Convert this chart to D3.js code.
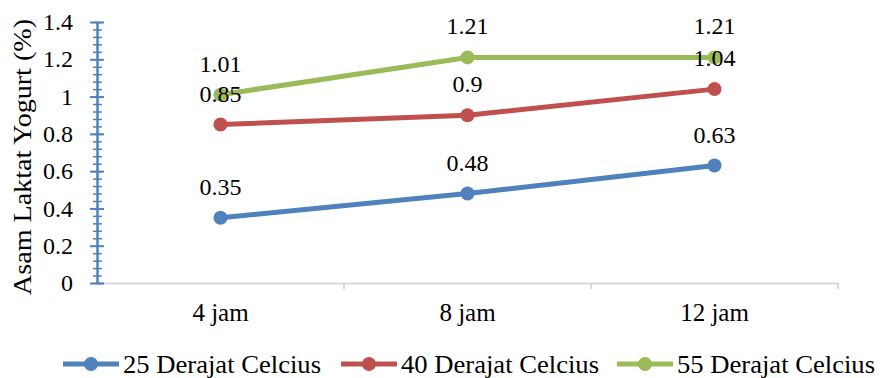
<!DOCTYPE html>
<html lang="id">
<head>
<meta charset="UTF-8">
<title>Asam Laktat Yogurt</title>
<script src="https://d3js.org/d3.v7.min.js"></script>
<style>
  body { margin: 0; background: #fff; }
</style>
</head>
<body>
<script>
var categories = ["4 jam", "8 jam", "12 jam"];
var seriesNames = ["25 Derajat Celcius", "40 Derajat Celcius", "55 Derajat Celcius"];
var seriesColors = ["#4F81BD", "#C0504D", "#9BBB59"];
var values25 = [0.35, 0.48, 0.63];
var values40 = [0.85, 0.9, 1.04];
var values55 = [1.01, 1.21, 1.21];
var yTicks = [0, 0.2, 0.4, 0.6, 0.8, 1, 1.2, 1.4];

var width = 881, height = 378;
var plotLeft = 97, plotRight = 838, plotTop = 22, plotBottom = 283;
var serif = "'Liberation Serif', 'Times New Roman', Times, serif";

var svg = d3.select("body").append("svg")
    .attr("width", width)
    .attr("height", height);

var x = d3.scaleBand().domain(categories).range([plotLeft, plotRight]);
var y = d3.scaleLinear().domain([0, 1.4]).range([plotBottom, plotTop]);

// x axis
var xAxis = d3.axisBottom(x).tickSize(0).tickPadding(20);
var xg = svg.append("g").attr("transform", "translate(0," + plotBottom + ")").call(xAxis);
xg.attr("font-size", 25);
xg.select(".domain").attr("stroke", "#d9d9d9").attr("stroke-width", 2);
// category boundary ticks
var bounds = categories.map(function(c) { return x(c) + x.bandwidth(); });
xg.selectAll("line.bound").data(bounds).enter().append("line")
    .attr("class", "bound")
    .attr("x1", function(d) { return d; }).attr("x2", function(d) { return d; })
    .attr("y1", 0).attr("y2", 6)
    .attr("stroke", "#d9d9d9").attr("stroke-width", 2);

// y axis with minor ticks
var minor = d3.range(0, 1.4001, 0.04);
var yMinor = d3.axisLeft(y).tickValues(minor).tickSize(0).tickFormat("");
var ymg = svg.append("g").attr("transform", "translate(" + plotLeft + ",0)").call(yMinor);
ymg.select(".domain").remove();
ymg.selectAll(".tick line").attr("x1", -4).attr("x2", 5)
    .attr("stroke", "#4F81BD").attr("stroke-width", 1.5);

var yAxis = d3.axisLeft(y).tickValues(yTicks).tickSize(0).tickPadding(24)
    .tickFormat(function(d) { return String(d); });
var yg = svg.append("g").attr("transform", "translate(" + plotLeft + ",0)").call(yAxis);
yg.attr("font-size", 24);
yg.select(".domain").attr("stroke", "#4F81BD").attr("stroke-width", 2.5);
yg.selectAll(".tick line").attr("x1", -7).attr("x2", 7)
    .attr("stroke", "#4F81BD").attr("stroke-width", 2);

// y axis title
svg.append("text")
    .attr("transform", "translate(31,157) rotate(-90)")
    .attr("text-anchor", "middle")
    .attr("font-size", 25)
    .attr("textLength", 276)
    .attr("lengthAdjust", "spacingAndGlyphs")
    .text("Asam Laktat Yogurt (%)");

// series
var series = [values25, values40, values55];
var line = d3.line()
    .x(function(d, i) { return x(categories[i]) + x.bandwidth() / 2; })
    .y(function(d) { return y(d); });

series.forEach(function(vals, s) {
  var g = svg.append("g");
  g.append("path").datum(vals)
      .attr("d", line)
      .attr("fill", "none")
      .attr("stroke", seriesColors[s])
      .attr("stroke-width", 5)
      .attr("stroke-linecap", "round");
  g.selectAll("circle").data(vals).enter().append("circle")
      .attr("cx", function(d, i) { return x(categories[i]) + x.bandwidth() / 2; })
      .attr("cy", function(d) { return y(d); })
      .attr("r", 7)
      .attr("fill", seriesColors[s]);
});

// data labels (drawn after lines so they sit on top)
series.forEach(function(vals, s) {
  svg.append("g").selectAll("text").data(vals).enter().append("text")
      .attr("x", function(d, i) { return x(categories[i]) + x.bandwidth() / 2; })
      .attr("y", function(d) { return y(d) - 23; })
      .attr("text-anchor", "middle")
      .attr("font-size", 24)
      .text(function(d) { return String(d); });
});

// legend
var legendX = [63, 341, 617];
var leg = svg.append("g").attr("transform", "translate(0,364)");
seriesNames.forEach(function(name, i) {
  var lg = leg.append("g").attr("transform", "translate(" + legendX[i] + ",0)");
  lg.append("line").attr("x1", 0).attr("x2", 56).attr("y1", 0).attr("y2", 0)
      .attr("stroke", seriesColors[i]).attr("stroke-width", 5);
  lg.append("circle").attr("cx", 28).attr("cy", 0).attr("r", 7)
      .attr("fill", seriesColors[i]);
  lg.append("text").attr("x", 60).attr("y", 9)
      .attr("font-size", 25)
      .attr("textLength", 198)
      .attr("lengthAdjust", "spacingAndGlyphs")
      .text(name);
});

// every text in the serif face, black
svg.selectAll("text").style("font-family", serif).attr("fill", "#000");
</script>
</body>
</html>
